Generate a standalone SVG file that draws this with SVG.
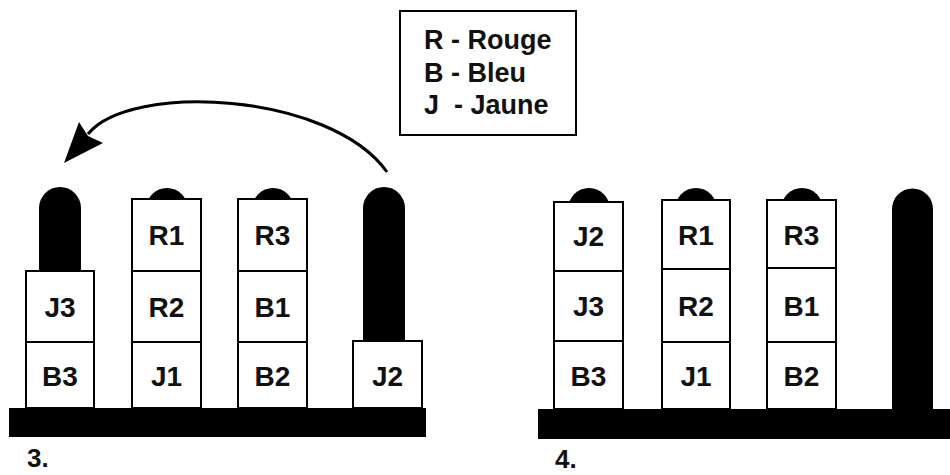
<svg xmlns="http://www.w3.org/2000/svg" width="950" height="475" viewBox="0 0 950 475">
<style>
.box{fill:#fff;stroke:#000;stroke-width:2}
.peg{fill:#000}
.lbl{font-family:"Liberation Sans",Arial,sans-serif;font-weight:bold;font-size:28px;fill:#111;text-anchor:middle}
.leg{font-family:"Liberation Sans",Arial,sans-serif;font-weight:bold;font-size:27px;fill:#111;white-space:pre}
.num{font-family:"Liberation Sans",Arial,sans-serif;font-weight:bold;font-size:26px;fill:#111}
</style>
<rect width="950" height="475" fill="#fff"/>
<g id="legend">
<rect x="400" y="11" width="176" height="124" fill="#fff" stroke="#000" stroke-width="2"/>
<text class="leg" x="424" y="49">R - Rouge</text>
<text class="leg" x="424" y="82">B - Bleu</text>
<text class="leg" x="424" y="114">J  - Jaune</text>
</g>
<g id="connectors">
<path d="M387,172 C330,92 130,82 88,134" fill="none" stroke="#000" stroke-width="3"/>
<polygon points="64,163 79,122 88,136 103,143" fill="#000"/>
</g>
<g id="panel3">
<path class="peg" d="M39,408 V208 A21,21 0 0 1 81,208 V408 Z"/>
<path class="peg" d="M146,408 V209 A21,21 0 0 1 188,209 V408 Z"/>
<path class="peg" d="M252,408 V209 A21,21 0 0 1 294,209 V408 Z"/>
<path class="peg" d="M363,408 V208 A21,21 0 0 1 405,208 V408 Z"/>
<rect x="9" y="408" width="417" height="29" fill="#000"/>
<g id="p3-J3"><rect class="box" x="26" y="271" width="68" height="71"/><text class="lbl" x="60" y="317">J3</text></g>
<g id="p3-B3"><rect class="box" x="26" y="342" width="68" height="66"/><text class="lbl" x="60" y="386">B3</text></g>
<g id="p3-R1"><rect class="box" x="132" y="199" width="69" height="72"/><text class="lbl" x="166.5" y="245">R1</text></g>
<g id="p3-R2"><rect class="box" x="132" y="271" width="69" height="71"/><text class="lbl" x="166.5" y="317">R2</text></g>
<g id="p3-J1"><rect class="box" x="132" y="342" width="69" height="66"/><text class="lbl" x="166.5" y="386">J1</text></g>
<g id="p3-R3"><rect class="box" x="238" y="199" width="69" height="72"/><text class="lbl" x="272.5" y="245">R3</text></g>
<g id="p3-B1"><rect class="box" x="238" y="271" width="69" height="71"/><text class="lbl" x="272.5" y="317">B1</text></g>
<g id="p3-B2"><rect class="box" x="238" y="342" width="69" height="66"/><text class="lbl" x="272.5" y="386">B2</text></g>
<g id="p3-J2"><rect class="box" x="353" y="341" width="69" height="67"/><text class="lbl" x="387.5" y="386">J2</text></g>
<text class="num" x="27" y="467">3.</text>
</g>
<g id="panel4">
<path class="peg" d="M568,409 V209 A21,21 0 0 1 610,209 V409 Z"/>
<path class="peg" d="M675,409 V209 A21,21 0 0 1 717,209 V409 Z"/>
<path class="peg" d="M781,409 V209 A21,21 0 0 1 823,209 V409 Z"/>
<path class="peg" d="M892,409 V209 A20.5,20.5 0 0 1 933,209 V409 Z"/>
<rect x="538" y="409" width="412" height="30" fill="#000"/>
<g id="p4-J2"><rect class="box" x="554" y="202" width="69" height="69"/><text class="lbl" x="588.5" y="246">J2</text></g>
<g id="p4-J3"><rect class="box" x="554" y="271" width="69" height="70"/><text class="lbl" x="588.5" y="316">J3</text></g>
<g id="p4-B3"><rect class="box" x="554" y="341" width="69" height="68"/><text class="lbl" x="588.5" y="386">B3</text></g>
<g id="p4-R1"><rect class="box" x="662" y="200" width="68" height="69"/><text class="lbl" x="696" y="245">R1</text></g>
<g id="p4-R2"><rect class="box" x="662" y="269" width="68" height="73"/><text class="lbl" x="696" y="316">R2</text></g>
<g id="p4-J1"><rect class="box" x="662" y="342" width="68" height="67"/><text class="lbl" x="696" y="386">J1</text></g>
<g id="p4-R3"><rect class="box" x="767" y="200" width="69" height="68"/><text class="lbl" x="801.5" y="245">R3</text></g>
<g id="p4-B1"><rect class="box" x="767" y="268" width="69" height="74"/><text class="lbl" x="801.5" y="316">B1</text></g>
<g id="p4-B2"><rect class="box" x="767" y="342" width="69" height="67"/><text class="lbl" x="801.5" y="386">B2</text></g>
<text class="num" x="555" y="468">4.</text>
</g>
</svg>
